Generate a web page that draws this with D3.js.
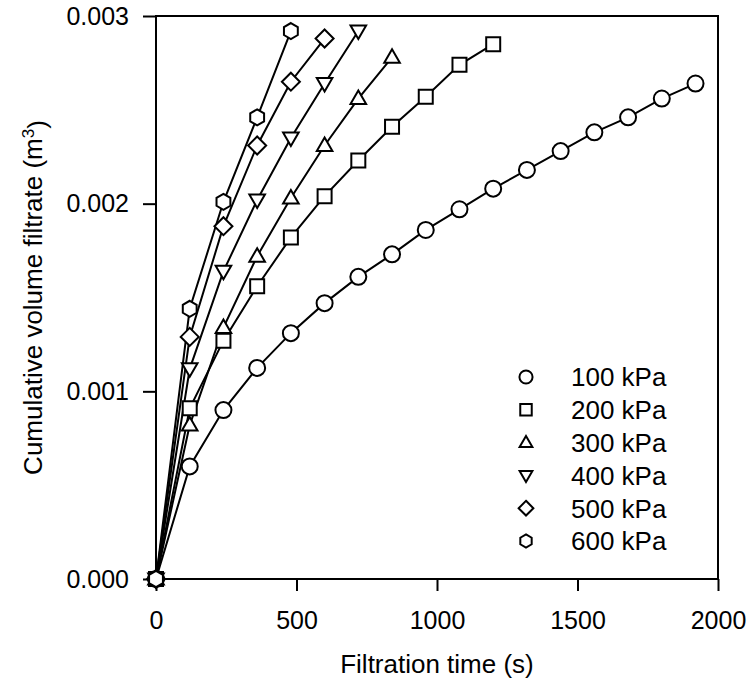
<!DOCTYPE html>
<html><head><meta charset="utf-8">
<script src="https://cdn.jsdelivr.net/npm/d3@7"></script>
<style>body{margin:0;background:#fff}svg{display:block}</style>
</head><body><svg id="c" width="751" height="682"></svg>
<script>
// ---- data ----
const seriesNames = ["100 kPa","200 kPa","300 kPa","400 kPa","500 kPa","600 kPa"];
const seriesShapes = ["circle","square","triangleUp","triangleDown","diamond","hexagon"];
const time100 = [0,120,240,360,480,600,720,840,960,1080,1200,1320,1440,1560,1680,1800,1920];
const vol100  = [0,0.00060,0.00090,0.001125,0.00131,0.00147,0.00161,0.00173,0.00186,0.00197,0.00208,0.00218,0.00228,0.00238,0.00246,0.00256,0.00264];
const time200 = [0,120,240,360,480,600,720,840,960,1080,1200];
const vol200  = [0,0.00091,0.00127,0.00156,0.00182,0.00204,0.00223,0.00241,0.00257,0.00274,0.00285];
const time300 = [0,120,240,360,480,600,720,840];
const vol300  = [0,0.00082,0.00134,0.00172,0.00203,0.00231,0.00256,0.00278];
const time400 = [0,120,240,360,480,600,720];
const vol400  = [0,0.00112,0.00164,0.00202,0.00235,0.00264,0.00292];
const time500 = [0,120,240,360,480,600];
const vol500  = [0,0.00129,0.00188,0.00231,0.00265,0.00288];
const time600 = [0,120,240,360,480];
const vol600  = [0,0.00144,0.00201,0.00246,0.00292];
const xTicks = [0,500,1000,1500,2000];
const yTicks = [0,0.001,0.002,0.003];
const xTitle = "Filtration time (s)";
const yTitle = "Cumulative volume filtrate (m";

const seriesData = [
  [time100, vol100],[time200, vol200],[time300, vol300],
  [time400, vol400],[time500, vol500],[time600, vol600]
].map(([t,v],i)=>({name:seriesNames[i], shape:seriesShapes[i],
  pts:t.map((d,j)=>({t:d, v:v[j]}))}));

// ---- layout ----
const L=156, R=718, T=16, B=579;
const FONT = "'Liberation Sans', Arial, sans-serif";
const svg = d3.select("#c");
const x = d3.scaleLinear().domain([0,2000]).range([L,R]);
const y = d3.scaleLinear().domain([0,0.003]).range([B,T]);

function shapePath(shape, s){
  const p = d3.path();
  if(shape==="circle"){ p.arc(0,0,8*s,0,2*Math.PI); }
  else if(shape==="square"){ const h=7*s; p.rect(-h,-h,2*h,2*h); }
  else if(shape==="triangleUp"){ p.moveTo(0,-8*s); p.lineTo(7.8*s,5.5*s); p.lineTo(-7.8*s,5.5*s); p.closePath(); }
  else if(shape==="triangleDown"){ p.moveTo(0,8*s); p.lineTo(7.8*s,-5.5*s); p.lineTo(-7.8*s,-5.5*s); p.closePath(); }
  else if(shape==="diamond"){ const h=9*s; p.moveTo(0,-h); p.lineTo(h,0); p.lineTo(0,h); p.lineTo(-h,0); p.closePath(); }
  else if(shape==="hexagon"){ const r=8*s; for(let k=0;k<6;k++){ const a=-Math.PI/2+k*Math.PI/3; const px=r*Math.cos(a), py=r*Math.sin(a); if(k===0)p.moveTo(px,py); else p.lineTo(px,py);} p.closePath(); }
  return p.toString();
}

// axes
const xAxis = d3.axisBottom(x).tickValues(xTicks).tickSize(12).tickPadding(20).tickFormat(d3.format("d"));
const yAxis = d3.axisLeft(y).tickValues(yTicks).tickSize(13).tickPadding(14).tickFormat(d3.format(".3f"));
const gx = svg.append("g").attr("transform",`translate(0,${B})`).call(xAxis);
const gy = svg.append("g").attr("transform",`translate(${L},0)`).call(yAxis);
[gx,gy].forEach(g=>{
  g.select(".domain").remove();
  g.selectAll(".tick line").attr("stroke","#000").attr("stroke-width",2);
  g.selectAll(".tick text").attr("fill","#000").style("font-family",FONT).style("font-size","25px");
});
// frame
svg.append("rect").attr("x",L).attr("y",T).attr("width",R-L).attr("height",B-T)
  .attr("fill","none").attr("stroke","#000").attr("stroke-width",2);

// lines
const line = d3.line().x(d=>x(d.t)).y(d=>y(d.v));
svg.append("g").selectAll("path").data(seriesData).join("path")
  .attr("d",d=>line(d.pts)).attr("fill","none").attr("stroke","#000").attr("stroke-width",2);
// markers
seriesData.forEach(s=>{
  svg.append("g").selectAll("path").data(s.pts).join("path")
    .attr("transform",d=>`translate(${x(d.t)},${y(d.v)})`)
    .attr("d",shapePath(s.shape,1)).attr("fill","#fff").attr("stroke","#000").attr("stroke-width",2);
});

// legend
const lg = svg.append("g");
seriesData.forEach((s,i)=>{
  const cy = 377 + i*32.8;
  lg.append("path").attr("transform",`translate(526,${cy})`).attr("d",shapePath(s.shape,0.82))
    .attr("fill","#fff").attr("stroke","#000").attr("stroke-width",2);
  lg.append("text").attr("x",571).attr("y",cy).attr("dy","0.36em").text(s.name)
    .style("font-family",FONT).style("font-size","26px").attr("fill","#000");
});

// titles
svg.append("text").attr("x",(L+R)/2).attr("y",673).attr("text-anchor","middle")
  .style("font-family",FONT).style("font-size","26px").text(xTitle);
const yt = svg.append("text").attr("transform",`translate(42,${(T+B)/2}) rotate(-90)`).attr("text-anchor","middle")
  .style("font-family",FONT).style("font-size","26px");
yt.append("tspan").text(yTitle);
yt.append("tspan").attr("dy","-0.45em").style("font-size","17px").text("3");
yt.append("tspan").attr("dy","0.45em").text(")");
</script></body></html>
